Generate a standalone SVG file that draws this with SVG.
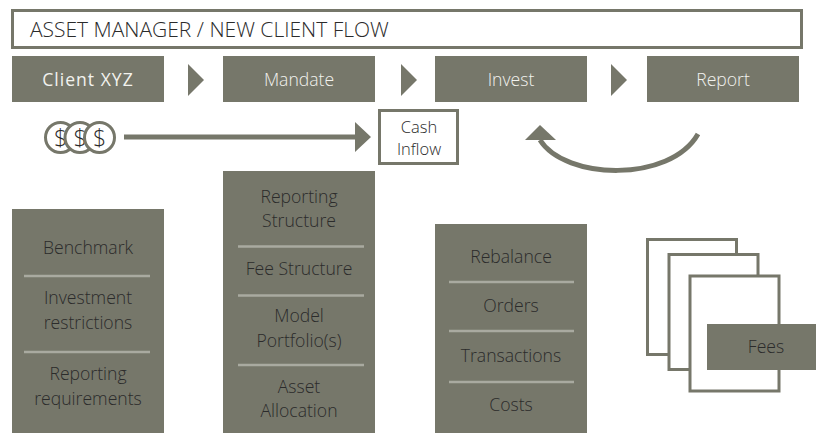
<svg xmlns="http://www.w3.org/2000/svg" width="816" height="433" viewBox="0 0 816 433">
<style>
text{font-family:"Open Sans","Noto Sans",sans-serif;font-weight:300;font-size:17.600px;text-anchor:middle;fill:#2b2b2b}
.bar{fill:#76776a}
.w{fill:#f2f2ee;font-size:17.600px}
.box{fill:#fff;stroke:#76776a;stroke-width:3}
.div{stroke:#a9aaa0;stroke-width:2.4}
.coin{fill:#fff;stroke:#76776a;stroke-width:3}
.d{font-size:23px}
.c{font-size:16.500px}
</style>
<rect width="816" height="433" fill="#fff"/>
<g id="title"><rect class="box" x="12.5" y="10.5" width="789" height="37"/><text x="30" y="37" style="text-anchor:start;font-size:21px">ASSET MANAGER / NEW CLIENT FLOW</text></g>
<g id="client"><rect class="bar" x="12" y="56" width="152" height="46"/><text class="w" x="88" y="86" style="font-weight:400;letter-spacing:1px">Client XYZ</text></g>
<g id="mandate"><rect class="bar" x="223" y="56" width="152" height="46"/><text class="w" x="299" y="86">Mandate</text></g>
<g id="invest"><rect class="bar" x="435" y="56" width="152" height="46"/><text class="w" x="511" y="86">Invest</text></g>
<g id="report"><rect class="bar" x="647" y="56" width="152" height="46"/><text class="w" x="723" y="86">Report</text></g>
<g id="coins">
<circle class="coin" cx="60.500" cy="137.500" r="15"/><text class="d" x="60.500" y="145.500">$</text>
<circle class="coin" cx="80" cy="137.500" r="15"/><text class="d" x="80" y="145.500">$</text>
<circle class="coin" cx="99.500" cy="137.500" r="15"/><text class="d" x="99.500" y="145.500">$</text>
</g>
<g id="cash"><rect class="box" x="379.500" y="110.500" width="78" height="53"/><text class="c" x="419" y="133">Cash</text><text class="c" x="419" y="155">Inflow</text></g>
<g id="connectors" fill="#76776a">
<path d="M188 64L204 80L188 96Z"/><path d="M401 64L417 80L401 96Z"/><path d="M611 64L627 80L611 96Z"/>
<path d="M124 134.500H355V122L371 137L355 152V139.500H124Z"/>
<path d="M540 140C565 180 670 183 698 134" fill="none" stroke="#76776a" stroke-width="5"/>
<path d="M540 125L556 140H525Z"/>
</g>
<g id="panel1"><rect class="bar" x="12" y="209" width="152" height="224"/>
<path class="div" d="M24 276H150M24 352H150"/>
<text x="88" y="254">Benchmark</text><text x="88" y="304">Investment</text><text x="88" y="329">restrictions</text><text x="88" y="380">Reporting</text><text x="88" y="405">requirements</text></g>
<g id="panel2"><rect class="bar" x="223" y="171" width="152" height="262"/>
<path class="div" d="M238 246.500H364M238 295.500H364M238 365H364"/>
<text x="299" y="203">Reporting</text><text x="299" y="227">Structure</text><text x="299" y="275">Fee Structure</text><text x="299" y="322">Model</text><text x="299" y="347">Portfolio(s)</text><text x="299" y="393">Asset</text><text x="299" y="417">Allocation</text></g>
<g id="panel3"><rect class="bar" x="435" y="224" width="152" height="209"/>
<path class="div" d="M449 282H574M449 331H574M449 382H574"/>
<text x="511" y="263">Rebalance</text><text x="511" y="312">Orders</text><text x="511" y="362">Transactions</text><text x="511" y="411">Costs</text></g>
<g id="pages">
<rect class="box" x="647.500" y="239.500" width="89" height="115"/>
<rect class="box" x="669" y="254.500" width="89" height="115"/>
<rect class="box" x="690" y="276" width="89" height="115"/>
</g>
<g id="fees"><rect class="bar" x="707" y="324" width="109" height="46"/><text x="766" y="353">Fees</text></g>
</svg>
